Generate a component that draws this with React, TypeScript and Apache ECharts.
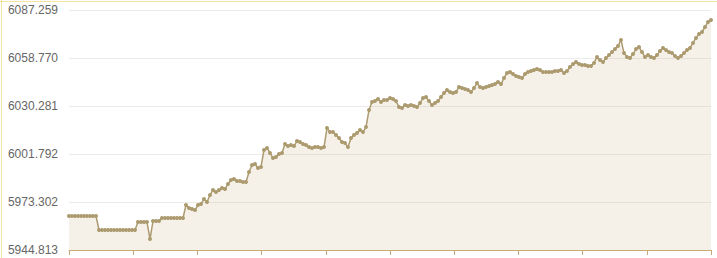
import React, { useEffect, useRef } from "react";
import * as echarts from "echarts";

const yTickLabels = [5944.813, 5973.302, 6001.792, 6030.281, 6058.77, 6087.259];
const yMin = 5944.813;
const yMax = 6087.259;

const seriesValues = [
  5965.0, 5965.0, 5965.0, 5965.0, 5965.0, 5965.0, 5965.0, 5965.0, 5965.0, 5965.0,
  5956.7, 5956.7, 5956.7, 5956.7, 5956.7, 5956.7, 5956.7, 5956.7, 5956.7, 5956.7,
  5956.7, 5956.7, 5956.7, 5961.4, 5961.4, 5961.4, 5961.4, 5951.3, 5962.0, 5962.0,
  5962.0, 5963.8, 5963.8, 5963.8, 5963.8, 5963.8, 5963.8, 5963.8, 5963.8, 5971.5,
  5969.7, 5969.1, 5968.5, 5971.5, 5972.1, 5975.1, 5973.3, 5977.5, 5980.4, 5979.2,
  5980.4, 5981.6, 5981.0, 5984.0, 5986.4, 5986.9, 5985.8, 5985.8, 5985.2, 5985.2,
  5991.1, 5995.3, 5995.9, 5993.5, 5994.1, 6004.2, 6005.4, 6002.4, 5999.4, 6000.0,
  6001.8, 6002.4, 6007.7, 6006.5, 6007.1, 6006.5, 6009.5, 6008.9, 6007.7, 6007.1,
  6005.9, 6005.4, 6005.9, 6005.9, 6005.4, 6005.9, 6017.2, 6014.9, 6014.9, 6013.1,
  6011.3, 6008.9, 6008.3, 6005.9, 6011.3, 6013.1, 6014.3, 6016.0, 6014.9, 6017.8,
  6027.9, 6032.7, 6033.2, 6034.4, 6032.7, 6033.8, 6033.8, 6035.0, 6034.4, 6033.2,
  6029.7, 6029.1, 6030.9, 6030.3, 6030.9, 6030.3, 6029.7, 6032.1, 6035.0, 6035.6,
  6033.2, 6030.9, 6032.1, 6033.2, 6035.6, 6038.0, 6039.8, 6038.6, 6038.0, 6038.6,
  6041.5, 6041.0, 6040.4, 6039.8, 6038.6, 6041.0, 6043.9, 6041.5, 6041.0, 6041.5,
  6042.1, 6042.7, 6043.3, 6044.5, 6043.3, 6046.9, 6049.9, 6050.5, 6049.3, 6048.1,
  6047.5, 6046.9, 6049.3, 6050.5, 6051.1, 6051.7, 6052.2, 6051.7, 6050.5, 6050.5,
  6050.5, 6050.5, 6051.1, 6051.1, 6051.7, 6049.9, 6051.1, 6053.4, 6055.2, 6056.4,
  6055.2, 6054.6, 6054.6, 6054.0, 6054.0, 6055.8, 6059.4, 6057.6, 6056.4, 6058.8,
  6060.5, 6062.3, 6064.1, 6065.9, 6069.5, 6061.7, 6059.4, 6058.8, 6061.1, 6064.1,
  6065.3, 6062.3, 6059.4, 6060.5, 6059.4, 6058.8, 6060.5, 6062.9, 6064.7, 6063.5,
  6062.3, 6061.7, 6059.9, 6058.8, 6059.9, 6061.7, 6063.5, 6064.7, 6067.7, 6070.7,
  6073.0, 6074.2, 6077.2, 6080.1, 6081.3,
];

const lineColor = "#ad9b70";

export default function App() {
  const ref = useRef<HTMLDivElement>(null);

  useEffect(() => {
    document.body.style.margin = "0";
    document.body.style.overflow = "hidden";
    if (!ref.current) return;
    const chart = echarts.init(ref.current, undefined, { renderer: "svg" });
    const data = seriesValues.map((v, i) => [i, v]);
    const n = seriesValues.length - 1;
    chart.setOption({
      animation: false,
      grid: { left: 69, right: 6, top: 10, bottom: 8, containLabel: false },
      xAxis: {
        type: "value",
        min: 0,
        max: n,
        interval: n / 10,
        axisLine: { show: true, lineStyle: { color: "#c9a978", width: 1 } },
        axisTick: { show: true, length: 5, lineStyle: { color: "#c9a978" } },
        axisLabel: { show: false },
        splitLine: { show: false },
      },
      yAxis: {
        type: "value",
        min: yMin,
        max: yMax,
        axisLine: { show: false },
        axisTick: { show: false, customValues: yTickLabels },
        axisLabel: {
          customValues: yTickLabels,
          formatter: (v: number) => v.toFixed(3),
          color: "#666",
          fontSize: 12,
          fontFamily: "Liberation Sans, Arial, sans-serif",
          margin: 11,
        },
        splitLine: { show: true, lineStyle: { color: "#ebebeb", width: 1 } },
      },
      series: [
        {
          type: "line",
          data,
          showSymbol: true,
          symbol: "circle",
          symbolSize: 4,
          itemStyle: { color: lineColor },
          lineStyle: { color: lineColor, width: 1.5 },
          areaStyle: { color: "rgba(190,168,120,0.23)" },
        },
      ],
    });
    return () => chart.dispose();
  }, []);

  return (
    <div style={{ position: "fixed", left: 0, top: 0, width: 717, height: 258, background: "#fff" }}>
      <div ref={ref} style={{ position: "absolute", left: 0, top: 0, width: 717, height: 258 }} />
      <div style={{ position: "absolute", left: 0, top: 1, width: 717, height: 1, background: "#f7e4a0" }} />
      <div style={{ position: "absolute", left: 1, top: 0, width: 1, height: 258, background: "#f7e4a0" }} />
    </div>
  );
}
